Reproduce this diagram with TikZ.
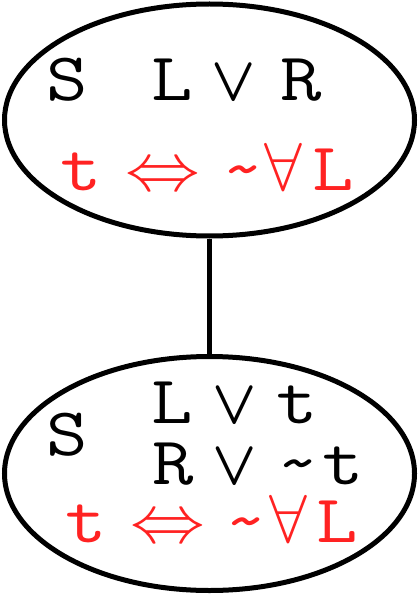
\RequirePackage{fix-cm}
\documentclass[tikz,border=0pt]{standalone}
\usepackage{amsmath}
\usepackage{amssymb}
\usepackage{graphicx}
\usepackage{color, xcolor}
\usetikzlibrary{
	calc,
	shapes,
	positioning
	}
\definecolor{rouge}{RGB}{255,34,34}
\tikzstyle{bulle}=[draw,ellipse,line width=5pt,minimum width=410pt,minimum height=232pt,inner sep=0pt]
\tikzstyle{texte}=[anchor=base,inner sep=0pt,font=\fontsize{68}{80}\selectfont\ttfamily]
\newcommand{\lettre}[1]{\scalebox{1.18}[1]{#1}}
\newcommand{\ou}{\scalebox{0.85}[0.92]{$\boldsymbol{\vee}$}}
\newcommand{\equi}{\scalebox{1.1}[1]{$\Leftrightarrow$}}
\newcommand{\non}{\lettre{\textasciitilde}}

\begin{document}
\begin{tikzpicture}[x=1pt,y=-1pt]
\useasboundingbox (0,0) rectangle (419,596);
\node[bulle] (bulle0) at (209.5,120) {};
\node[bulle,minimum height=234pt] (bulle1) at (209.5,473.5) {};
\draw[line width=4.5pt] (bulle0) -- (bulle1);

% noeud du haut
\node[texte] (s0) at (67,101) {\lettre{S}};
\node[texte] (l0) at (172,101) {\lettre{L}};
\node[texte] (v0) at (234,101) {\ou};
\node[texte] (r0) at (301,101) {\lettre{R}};
\node[texte,rouge] (t0) at (81.5,190) {\lettre{t}};
\node[texte,rouge] (e0) at (162.5,190) {\equi};
\node[texte,rouge] (n0) at (243.5,190) {\non};
\node[texte,rouge] (a0) at (283.5,190) {$\forall$};
\node[texte,rouge] (m0) at (333,190) {\lettre{L}};

% noeud du bas
\node[texte] (s1) at (67.5,455) {\lettre{S}};
\node[texte] (l1) at (172.5,423) {\lettre{L}};
\node[texte] (v1) at (235,423) {\ou};
\node[texte] (t1) at (297.5,423) {\lettre{t}};
\node[texte] (r1) at (173,484) {\lettre{R}};
\node[texte] (v2) at (235,484) {\ou};
\node[texte] (n1) at (298.5,484) {\non};
\node[texte] (t2) at (343.5,484) {\lettre{t}};
\node[texte,rouge] (t3) at (86.5,542) {\lettre{t}};
\node[texte,rouge] (e1) at (167.5,542) {\equi};
\node[texte,rouge] (n2) at (246.5,542) {\non};
\node[texte,rouge] (a1) at (288,542) {$\forall$};
\node[texte,rouge] (m1) at (337,542) {\lettre{L}};
\end{tikzpicture}
\end{document}
